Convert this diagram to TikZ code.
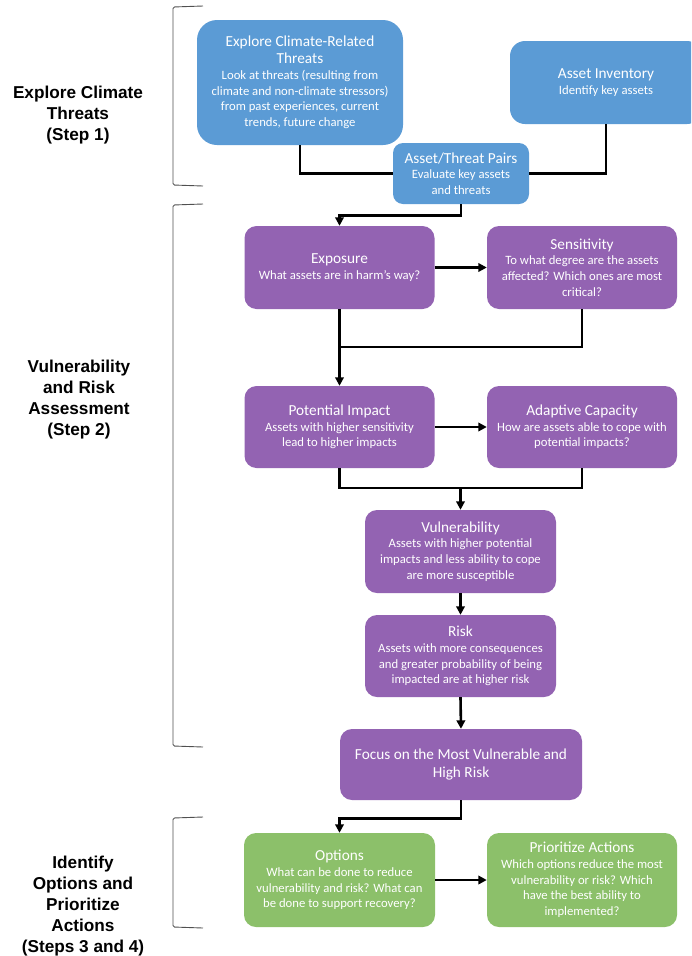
\documentclass[tikz,border=0pt]{standalone}
\usepackage{fontspec}
\setmainfont{Carlito}
\newfontfamily\labelfont{Liberation Sans}
\usetikzlibrary{arrows.meta}
\definecolor{cblue}{HTML}{5B9BD5}
\definecolor{cpurple}{HTML}{9363B2}
\definecolor{cgreen}{HTML}{8CC06A}
\definecolor{bracketgray}{HTML}{505050}
\newcommand\ttl[1]{{\fontsize{15.3}{18.5}\selectfont #1}}
\begin{document}
\begin{tikzpicture}[x=1pt,y=-1pt,
  boxbase/.style={text=white, align=center, inner sep=2pt,
    font=\fontsize{12.7}{15.7}\selectfont},
  bluebox/.style={boxbase, fill=cblue, rounded corners=12pt},
  purplebox/.style={boxbase, fill=cpurple, rounded corners=12pt},
  greenbox/.style={boxbase, fill=cgreen, rounded corners=12pt},
  conn/.style={line width=2.6pt, draw=black},
  arr/.style={conn, -{Triangle[length=8.5pt,width=8.5pt]}},
  lbl/.style={align=center, font=\labelfont\bfseries\fontsize{17.2}{21}\selectfont},
  brk/.style={draw=bracketgray, line width=0.9pt, rounded corners=1.5pt}
]
\useasboundingbox (0,0) rectangle (691,956);
\clip (0,0) rectangle (691,956);

% left labels
\node[lbl] (l1) at (78,115) {Explore Climate\\Threats\\(Step 1)};
\node[lbl] (l2) at (79,400) {Vulnerability\\and Risk\\Assessment\\(Step 2)};
\node[lbl] (l3) at (83,906) {Identify\\Options and\\Prioritize\\Actions\\(Steps 3 and 4)};

% brackets
\draw[brk] (203,6) -- (173,7) -- (173,185) -- (203,186);
\draw[brk] (203,204) -- (173,205) -- (173,746) -- (203,747);
\draw[brk] (203,817) -- (173,818) -- (173,927) -- (203,928);

% step 1 boxes
\node[bluebox, rounded corners=20pt, minimum width=206, minimum height=125] (explore) at (300,82.5)
  {\ttl{Explore Climate-Related}\\[1pt]\ttl{Threats}\\[0pt]Look at threats (resulting from\\climate and non-climate stressors)\\from past experiences, current\\trends, future change};
\node[bluebox, rounded corners=15pt, minimum width=192, minimum height=83] (inventory) at (606,82.5)
  {\ttl{Asset Inventory}\\[0pt]Identify key assets};
\node[bluebox, rounded corners=10pt, minimum width=136, minimum height=61] (pairs) at (461,173.5)
  {\ttl{Asset/Threat Pairs}\\[0pt]Evaluate key assets\\and threats};

% step 2 boxes
\node[purplebox, minimum width=190, minimum height=83] (exposure) at (339.5,267.5)
  {\ttl{Exposure}\\[0pt]What assets are in harm’s way?};
\node[purplebox, minimum width=190, minimum height=83] (sensitivity) at (582,267.5)
  {\ttl{Sensitivity}\\[0pt]To what degree are the assets\\affected? Which ones are most\\critical?};
\node[purplebox, minimum width=190, minimum height=82] (impact) at (339.5,427)
  {\ttl{Potential Impact}\\[0pt]Assets with higher sensitivity\\lead to higher impacts};
\node[purplebox, minimum width=190, minimum height=82] (capacity) at (582,427)
  {\ttl{Adaptive Capacity}\\[0pt]How are assets able to cope with\\potential impacts?};
\node[purplebox, minimum width=191, minimum height=83] (vuln) at (460.5,551.5)
  {\ttl{Vulnerability}\\[0pt]Assets with higher potential\\impacts and less ability to cope\\are more susceptible};
\node[purplebox, minimum width=191, minimum height=82] (risk) at (460.5,656)
  {\ttl{Risk}\\[0pt]Assets with more consequences\\and greater probability of being\\impacted are at higher risk};
\node[purplebox, minimum width=242, minimum height=71] (focus) at (461,764.5)
  {\ttl{Focus on the Most Vulnerable and}\\[2pt]\ttl{High Risk}};

% step 3-4 boxes
\node[greenbox, minimum width=191, minimum height=94] (options) at (339.5,880)
  {\ttl{Options}\\[0pt]What can be done to reduce\\vulnerability and risk? What can\\be done to support recovery?};
\node[greenbox, minimum width=190, minimum height=94] (prior) at (582,880)
  {\ttl{Prioritize Actions}\\[0pt]Which options reduce the most\\vulnerability or risk? Which\\have the best ability to\\implemented?};

% connectors
\draw[conn] (explore.south) |- (pairs.west);
\draw[conn] (inventory.south) |- (pairs.east);
\draw[arr] (pairs.south) -- ++(0,11) -| (exposure.north);
\draw[arr] (exposure.east) -- (sensitivity.west);
\coordinate (j1) at (339.5,347);
\draw[conn] (sensitivity.south) |- (j1);
\draw[arr] (exposure.south) -- (impact.north);
\draw[arr] (impact.east) -- (capacity.west);
\coordinate (j2) at (460.5,488);
\draw[conn] (impact.south) |- (j2) -| (capacity.south);
\draw[arr] (j2) -- (vuln.north);
\draw[arr] (vuln.south) -- (risk.north);
\draw[arr] (risk.south) -- (focus.north);
\draw[arr] (focus.south) -- ++(0,18) -| (options.north);
\draw[arr] (options.east) -- (prior.west);
\end{tikzpicture}
\end{document}
